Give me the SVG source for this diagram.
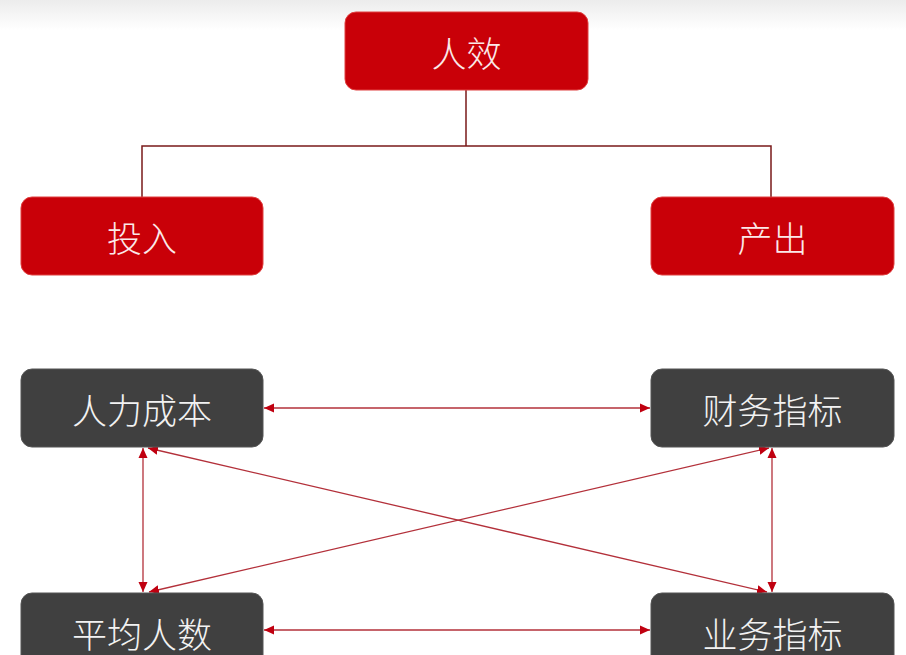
<svg xmlns="http://www.w3.org/2000/svg" width="906" height="655" viewBox="0 0 906 655">
<defs>
<linearGradient id="bg" x1="0" y1="0" x2="0" y2="1">
<stop offset="0" stop-color="#ececec"/>
<stop offset="1" stop-color="#ffffff"/>
</linearGradient>
<marker id="ah" viewBox="0 0 10 10" refX="10" refY="5" markerWidth="10" markerHeight="10" markerUnits="userSpaceOnUse" orient="auto-start-reverse">
<path d="M0,0.5 L10,5 L0,9.5 Z" fill="#c00010"/>
</marker>
<style>
.red rect{fill:#c90008;stroke:#e04040;stroke-width:1}
.dark rect{fill:#404040;stroke:#555;stroke-width:1}
text{font-family:"Noto Sans CJK SC","Noto Sans",sans-serif;font-size:35px;font-weight:300;text-anchor:middle;dominant-baseline:central}
.red text{fill:#fbe9e9}
.dark text{fill:#f2f2f2}
.tree{fill:none;stroke:#7a1a1a;stroke-width:1.5}
.arr{fill:none;stroke:#b3303a;stroke-width:1.3;marker-start:url(#ah);marker-end:url(#ah)}
</style>
</defs>
<rect x="0" y="0" width="906" height="655" fill="#ffffff"/>
<rect x="0" y="0" width="906" height="30" fill="url(#bg)"/>
<g id="connectors">
<path class="tree" d="M466,90 V146 M142,197 V146 H771 V197"/>
<line class="arr" x1="264" y1="408" x2="650" y2="408"/>
<line class="arr" x1="264" y1="630" x2="650" y2="630"/>
<line class="arr" x1="143" y1="448" x2="143" y2="592"/>
<line class="arr" x1="772" y1="448" x2="772" y2="592"/>
<line class="arr" x1="148" y1="448" x2="767" y2="592"/>
<line class="arr" x1="149" y1="592" x2="769" y2="448"/>
</g>
<g id="n-renxiao" class="red"><rect x="345" y="12" width="243" height="78" rx="11"/><text x="466.5" y="51">人效</text></g>
<g id="n-touru" class="red"><rect x="21" y="197" width="242" height="78" rx="11"/><text x="142" y="236">投入</text></g>
<g id="n-chanchu" class="red"><rect x="651" y="197" width="243" height="78" rx="11"/><text x="772.5" y="236">产出</text></g>
<g id="n-renlichengben" class="dark"><rect x="21" y="369" width="242" height="78" rx="11"/><text x="142" y="408">人力成本</text></g>
<g id="n-caiwuzhibiao" class="dark"><rect x="651" y="369" width="243" height="78" rx="11"/><text x="772.5" y="408">财务指标</text></g>
<g id="n-pingjunrenshu" class="dark"><rect x="21" y="593" width="242" height="78" rx="11"/><text x="142" y="632">平均人数</text></g>
<g id="n-yewuzhibiao" class="dark"><rect x="651" y="593" width="243" height="78" rx="11"/><text x="772.5" y="632">业务指标</text></g>
</svg>
